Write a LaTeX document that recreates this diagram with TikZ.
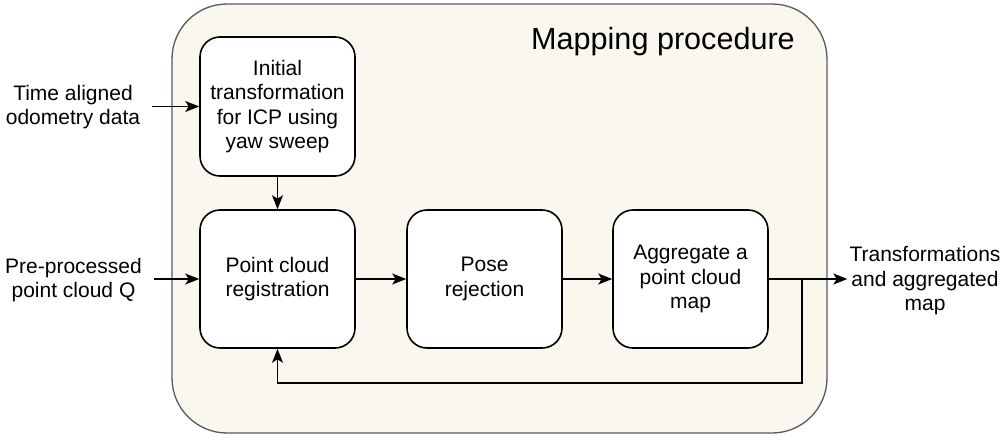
\documentclass[tikz,border=0pt]{standalone}
\usepackage{fontspec}
\setmainfont{Liberation Sans}
\usetikzlibrary{arrows.meta}
\definecolor{bgbeige}{HTML}{F9F7EE}
\definecolor{outerline}{HTML}{5A5A5A}
\begin{document}
\begin{tikzpicture}[x=1pt,y=-1pt,
  stepbox/.style={draw=black, fill=white, line width=1.6pt, rounded corners=20pt,
    minimum width=155pt, minimum height=138pt, align=center, inner sep=2pt,
    font=\fontsize{21}{24.5}\selectfont},
  lbl/.style={align=center, font=\fontsize{21}{24.5}\selectfont},
  arr/.style={draw=black, line width=1.6pt, -{Stealth[length=14pt,width=11pt,inset=3.5pt]}},
  ln/.style={draw=black, line width=1.6pt}]
\useasboundingbox (0,0) rectangle (1003,439);
\draw[draw=outerline, fill=bgbeige, line width=1.3pt, rounded corners=55pt] (172,4) rectangle (827,433);
\node[anchor=base, font=\fontsize{30.6}{36}\selectfont] (title) at (663,49) {Mapping procedure};
\node[stepbox, minimum height=139pt] (init) at (277.5,106.5) {Initial\\transformation\\for ICP using\\yaw sweep};
\node[stepbox] (reg) at (277.5,279) {Point cloud\\registration};
\node[stepbox] (pose) at (484.5,279) {Pose\\rejection};
\node[stepbox] (agg) at (690.5,279) {Aggregate a\\point cloud\\map};
\node[lbl, inner xsep=12pt] (odo) at (73,107) {Time aligned\\odometry data};
\node[lbl, inner xsep=12pt] (pcq) at (73.5,280) {Pre-processed\\point cloud Q};
\node[lbl, inner sep=2pt] (out) at (925,281) {Transformations\\and aggregated\\map};
\coordinate (split) at (802,279);
\coordinate (fb) at (802,383);
\draw[arr] (odo.east |- init.west) -- (init.west);
\draw[arr] (pcq.east |- reg.west) -- (reg.west);
\draw[arr] (init.south) -- (reg.north);
\draw[arr] (reg.east) -- (pose.west);
\draw[arr] (pose.east) -- (agg.west);
\draw[arr] (agg.east) -- (out.west |- agg.east);
\draw[arr] (split) -- (fb) -| (reg.south);
\end{tikzpicture}
\end{document}
